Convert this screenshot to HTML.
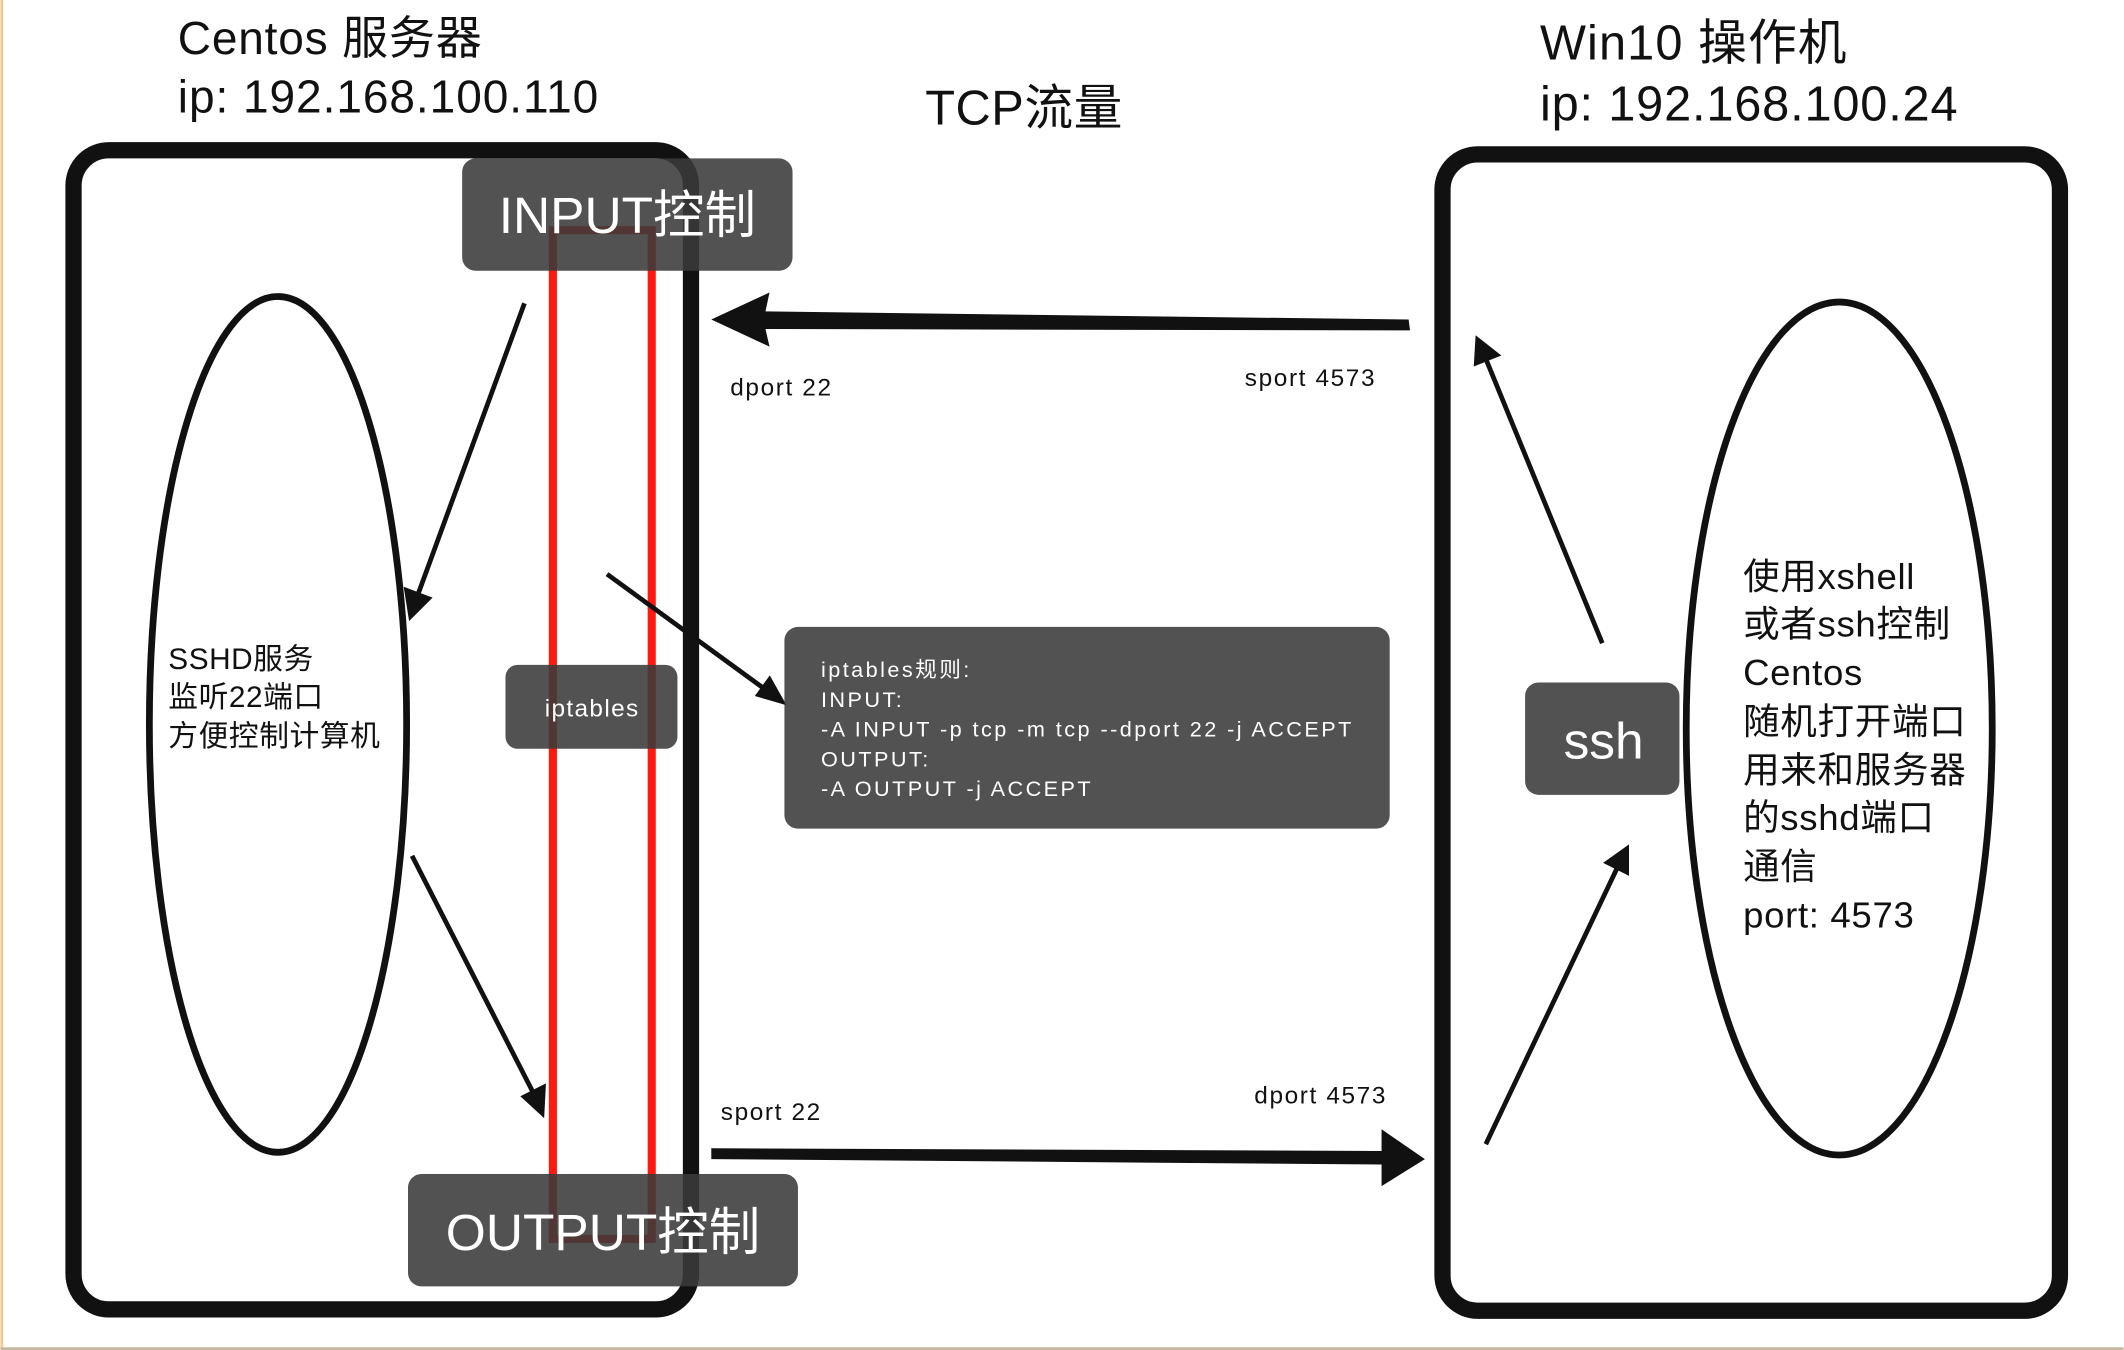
<!DOCTYPE html>
<html><head><meta charset="utf-8"><style>
html,body{margin:0;padding:0;background:#fff;}
svg{display:block;}
text{font-family:"Liberation Sans","Noto Sans CJK SC",sans-serif;}
</style></head><body>
<svg width="2124" height="1350" viewBox="0 0 1568 997" xmlns="http://www.w3.org/2000/svg">
<rect x="0" y="0" width="1568" height="997" fill="#fff"/>
<line x1="1" y1="0" x2="1" y2="997" stroke="#f0c890" stroke-width="2"/>
<line x1="0" y1="996" x2="1568" y2="996" stroke="#c8b8a0" stroke-width="2"/>
<!-- titles -->
<text x="131" y="40" font-size="34" fill="#111" letter-spacing="0.6">Centos 服务器</text>
<text x="131" y="83" font-size="34" fill="#111" letter-spacing="0.7">ip: 192.168.100.110</text>
<text x="683" y="92" font-size="36" fill="#111" letter-spacing="0.4">TCP流量</text>
<text x="1137" y="44" font-size="36" fill="#111" letter-spacing="0.8">Win10 操作机</text>
<text x="1137" y="89" font-size="36" fill="#111" letter-spacing="0.6">ip: 192.168.100.24</text>
<!-- frames -->
<rect x="54" y="111" width="456" height="856" rx="26" fill="none" stroke="#111" stroke-width="12"/>
<rect x="1065" y="114" width="456" height="854" rx="26" fill="none" stroke="#111" stroke-width="12"/>
<!-- red rect -->
<rect x="408" y="170" width="73" height="745" fill="none" stroke="#ff1a10" stroke-width="6"/>
<!-- ellipses -->
<ellipse cx="205" cy="535" rx="95" ry="316" fill="none" stroke="#111" stroke-width="5"/>
<ellipse cx="1358" cy="538" rx="113" ry="315" fill="none" stroke="#111" stroke-width="5"/>
<!-- thin arrows -->
<g stroke="#111" stroke-width="3.5" fill="#111">
<line x1="387" y1="224" x2="308" y2="440"/>
<polygon points="303,455 300,436 316,442" />
<line x1="304" y1="632" x2="394" y2="808"/>
<polygon points="400,822 387,810 401,803"/>
<line x1="1183" y1="475" x2="1097" y2="265"/>
<polygon points="1091,251 1105,262 1090,268"/>
<line x1="1097" y1="845" x2="1194" y2="641"/>
<polygon points="1201,627 1201,644 1187,637"/>
<line x1="448" y1="424" x2="566" y2="510"/>
<polygon points="577,518 560,513 568,502"/>
</g>
<!-- big arrows -->
<polygon points="1040,236 1041,244 565,243 568,256 525,236 568,216 565,230" fill="#111"/>
<polygon points="525,848 525,856 1020,860 1020,876 1052,856 1020,834 1020,850" fill="#111"/>
<!-- labels -->
<g font-size="18" fill="#111" letter-spacing="1.2">
<text x="539" y="292">dport 22</text>
<text x="919" y="285">sport 4573</text>
<text x="532" y="827">sport 22</text>
<text x="926" y="815">dport 4573</text>
</g>
<g font-size="22" fill="#111" letter-spacing="0.4">
<text x="124" y="494">SSHD服务</text>
<text x="124" y="522">监听22端口</text>
<text x="124" y="551">方便控制计算机</text>
</g>
<g font-size="27" fill="#111" letter-spacing="0.5">
<text x="1287" y="435">使用xshell</text>
<text x="1287" y="470">或者ssh控制</text>
<text x="1287" y="506">Centos</text>
<text x="1287" y="542">随机打开端口</text>
<text x="1287" y="578">用来和服务器</text>
<text x="1287" y="613">的sshd端口</text>
<text x="1287" y="649">通信</text>
<text x="1287" y="685">port: 4573</text>
</g>
<!-- dark boxes -->
<g fill="rgba(58,58,58,0.88)">
<rect x="341" y="117" width="244" height="83" rx="10"/>
<rect x="301" y="867" width="288" height="83" rx="10"/>
<rect x="373" y="491" width="127" height="62" rx="9"/>
<rect x="579" y="463" width="447" height="149" rx="10"/>
<rect x="1126" y="504" width="114" height="83" rx="10"/>
</g>
<g fill="#fff">
<text x="463" y="172" font-size="38" text-anchor="middle">INPUT控制</text>
<text x="445" y="923" font-size="38" text-anchor="middle">OUTPUT控制</text>
<text x="437" y="529" font-size="18" text-anchor="middle" letter-spacing="1">iptables</text>
<text x="1184" y="560" font-size="38" text-anchor="middle">ssh</text>
<g font-size="16" letter-spacing="1.8">
<text x="606" y="500">iptables规则:</text>
<text x="606" y="522">INPUT:</text>
<text x="606" y="544">-A INPUT -p tcp -m tcp --dport 22 -j ACCEPT</text>
<text x="606" y="566">OUTPUT:</text>
<text x="606" y="588">-A OUTPUT -j ACCEPT</text>
</g>
</g>
</svg>
</body></html>
